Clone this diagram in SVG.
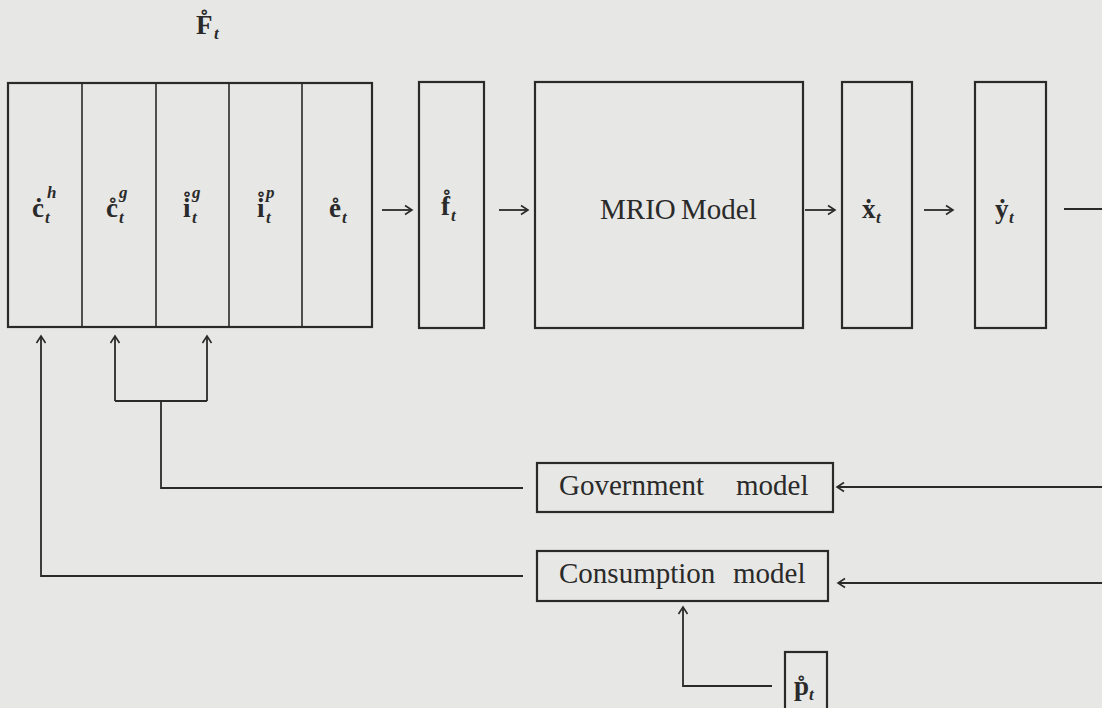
<svg xmlns="http://www.w3.org/2000/svg" width="1102" height="708" viewBox="0 0 1102 708">
  <defs>
    <marker id="ah" viewBox="-9 -6 11 12" refX="0" refY="0" markerWidth="11" markerHeight="12" markerUnits="userSpaceOnUse" orient="auto">
      <path d="M-7,-4.5 L0,0 L-7,4.5" fill="none" stroke="#2a2a2a" stroke-width="1.6"/>
    </marker>
  </defs>
  <style>
    .box { fill: none; stroke: #2a2a2a; stroke-width: 2.2; }
    .div { fill: none; stroke: #2a2a2a; stroke-width: 1.6; }
    .wire { fill: none; stroke: #2a2a2a; stroke-width: 1.8; }
    .arrow { fill: none; stroke: #2a2a2a; stroke-width: 1.8; marker-end: url(#ah); }
    .vec { font-family: "Liberation Serif", "DejaVu Serif", serif; font-weight: bold; font-size: 27px; fill: #2a2a2a; }
    .idx { font-family: "Liberation Serif", "DejaVu Serif", serif; font-style: italic; font-weight: bold; font-size: 17px; fill: #2a2a2a; }
    .lbl { font-family: "Liberation Serif", "DejaVu Serif", serif; font-size: 29px; fill: #2a2a2a; }
  </style>

  <!-- paper -->
  <rect x="0" y="0" width="1102" height="708" fill="#e7e7e5"/>

  <!-- stacked final-demand title -->
  <g id="title-F">
    <text class="vec" x="196" y="34">F&#x030A;</text>
    <text class="idx" x="214" y="39">t</text>
  </g>

  <!-- final demand components -->
  <g id="node-final-demand">
    <rect class="box" x="8" y="83" width="364" height="244"/>
    <line class="div" x1="82" y1="83" x2="82" y2="327"/>
    <line class="div" x1="156" y1="83" x2="156" y2="327"/>
    <line class="div" x1="229" y1="83" x2="229" y2="327"/>
    <line class="div" x1="302" y1="83" x2="302" y2="327"/>
    <text class="vec" x="32" y="217">c&#x0307;</text>
    <text class="idx" x="47" y="198">h</text>
    <text class="idx" x="45" y="223">t</text>
    <text class="vec" x="106" y="217">c&#x030A;</text>
    <text class="idx" x="119" y="198">g</text>
    <text class="idx" x="119" y="223">t</text>
    <text class="vec" x="183" y="217">i&#x030A;</text>
    <text class="idx" x="192" y="198">g</text>
    <text class="idx" x="192" y="223">t</text>
    <text class="vec" x="257" y="217">i&#x030A;</text>
    <text class="idx" x="266" y="198">p</text>
    <text class="idx" x="266" y="223">t</text>
    <text class="vec" x="329" y="217">e&#x030A;</text>
    <text class="idx" x="342" y="223">t</text>
  </g>

  <g id="node-f">
    <rect class="box" x="419" y="82" width="65" height="246"/>
    <text class="vec" x="441" y="215">f&#x030A;</text>
    <text class="idx" x="451" y="221">t</text>
  </g>

  <g id="node-mrio">
    <rect class="box" x="535" y="82" width="268" height="246"/>
    <text class="lbl" y="219" font-size="27"><tspan x="600">MRIO</tspan><tspan x="681">Model</tspan></text>
  </g>

  <g id="node-x">
    <rect class="box" x="842" y="82" width="70" height="246"/>
    <text class="vec" x="862" y="218">x&#x0307;</text>
    <text class="idx" x="876" y="223">t</text>
  </g>

  <g id="node-y">
    <rect class="box" x="975" y="82" width="71" height="246"/>
    <text class="vec" x="995" y="218">y&#x0307;</text>
    <text class="idx" x="1009" y="223">t</text>
  </g>

  <g id="node-government">
    <rect class="box" x="537" y="463" width="296" height="49"/>
    <text class="lbl" y="495"><tspan x="559">Government</tspan><tspan x="736">model</tspan></text>
  </g>

  <g id="node-consumption">
    <rect class="box" x="537" y="551" width="291" height="50"/>
    <text class="lbl" y="583"><tspan x="559">Consumption</tspan><tspan x="733">model</tspan></text>
  </g>

  <g id="node-p">
    <rect class="box" x="785" y="652" width="42" height="60"/>
    <text class="vec" x="794" y="695">p&#x030A;</text>
    <text class="idx" x="809" y="700">t</text>
  </g>

  <!-- connectors -->
  <g id="connectors">
    <path class="arrow" d="M382,210 H412"/>
    <path class="arrow" d="M499,210 H528"/>
    <path class="arrow" d="M805,210 H835"/>
    <path class="arrow" d="M924,210 H953"/>
    <path class="wire" d="M1064,209 H1102"/>

    <path class="arrow" d="M1102,487 H837"/>
    <path class="arrow" d="M1102,583 H838"/>

    <path class="wire" d="M523,488 H161 V401"/>
    <path class="wire" d="M115,401 H207"/>
    <path class="arrow" d="M115,401 V336"/>
    <path class="arrow" d="M207,401 V336"/>

    <path class="arrow" d="M523,576 H41 V336"/>

    <path class="arrow" d="M772,686 H683 V607"/>
  </g>
</svg>
